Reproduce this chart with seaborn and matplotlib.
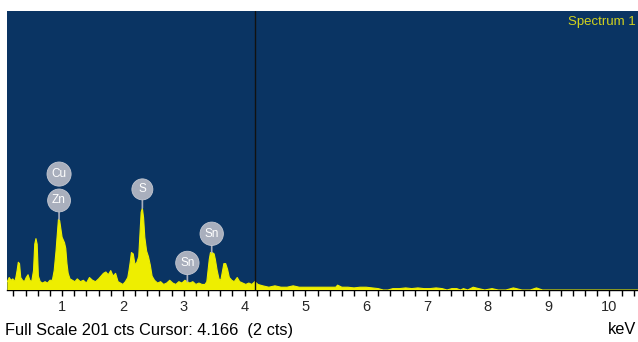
import numpy as np
import matplotlib
matplotlib.use("Agg")
import matplotlib.pyplot as plt
from matplotlib.ticker import MultipleLocator
import seaborn as sns

# spectrum (keV, counts)
energy_kev = [0.10, 0.13, 0.16, 0.19, 0.22, 0.24, 0.26, 0.28, 0.30, 0.32, 0.35, 0.38, 0.41,
              0.44, 0.47, 0.50, 0.53, 0.55, 0.57, 0.59, 0.61, 0.64, 0.68, 0.72, 0.76, 0.80,
              0.84, 0.87, 0.90, 0.92, 0.94, 0.96, 0.98, 1.00, 1.02, 1.04, 1.06, 1.08, 1.10,
              1.13, 1.17, 1.21, 1.25, 1.30, 1.35, 1.40, 1.45, 1.50, 1.55, 1.60, 1.64, 1.68,
              1.72, 1.76, 1.80, 1.84, 1.88, 1.92, 1.96, 2.00, 2.04, 2.08, 2.10, 2.12, 2.14,
              2.17, 2.20, 2.23, 2.26, 2.28, 2.30, 2.32, 2.34, 2.36, 2.39, 2.42, 2.45, 2.48,
              2.52, 2.57, 2.62, 2.67, 2.72, 2.77, 2.82, 2.87, 2.92, 2.97, 3.02, 3.06, 3.10,
              3.15, 3.20, 3.25, 3.30, 3.35, 3.38, 3.40, 3.42, 3.44, 3.47, 3.50, 3.52, 3.55,
              3.58, 3.61, 3.64, 3.66, 3.69, 3.72, 3.75, 3.79, 3.83, 3.88, 3.92, 3.97, 4.02,
              4.07, 4.12, 4.17, 4.22, 4.30, 4.40, 4.50, 4.60, 4.70, 4.80, 4.90, 5.00, 5.10,
              5.20, 5.30, 5.40, 5.50, 5.53, 5.60, 5.70, 5.80, 5.90, 6.00, 6.10, 6.20, 6.28,
              6.36, 6.44, 6.55, 6.65, 6.75, 6.85, 6.95, 7.05, 7.15, 7.25, 7.33, 7.41, 7.49,
              7.55, 7.60, 7.67, 7.76, 7.85, 7.95, 8.07, 8.17, 8.30, 8.42, 8.47, 8.56, 8.70,
              8.80, 8.90, 10.6]
counts = [6, 9, 7, 8, 6, 9, 14, 20, 19, 9, 7, 6, 9,
          11, 7, 6, 14, 33, 37, 33, 10, 6, 5, 6, 5, 7,
          7, 14, 28, 40, 51, 50, 44, 38, 36, 34, 30, 19, 12,
          8, 7, 6, 8, 6, 7, 5, 9, 7, 6, 8, 10, 12,
          13, 11, 14, 10, 12, 6, 5, 4, 6, 9, 14, 20, 27,
          26, 18, 20, 24, 40, 56, 59, 52, 38, 28, 24, 18, 10,
          7, 5, 6, 4, 5, 7, 5, 4, 6, 5, 7, 6, 5,
          6, 4, 5, 4, 4, 6, 14, 22, 27, 27, 26, 22, 14,
          8, 7, 14, 19, 19, 15, 9, 7, 6, 9, 6, 5, 4,
          5, 4, 6, 4, 3, 2, 3, 2, 2, 3, 2, 2, 2,
          2, 2, 2, 2, 3.5, 2, 2, 1.5, 2, 2, 1.5, 1, 0,
          0, 1, 1, 1.5, 1, 1.5, 1, 1, 1.5, 1, 0, 1, 1,
          0, 1, 0, 2, 1, 0, 1, 0, 0, 1.5, 1, 0, 0,
          1.5, 0, 0]

label_names = ["Zn", "S", "Sn", "Sn"]
label_kev = [0.95, 2.32, 3.46, 3.06]
stacked_label = "Cu"
cursor_kev = 4.166
full_scale = 201

navy = "#0a3463"
yellow = "#eeee00"
bubble = "#a9afbd"

sns.set_style("white")
plt.rcParams["font.family"] = ["Liberation Sans", "DejaVu Sans"]

fig = plt.figure(figsize=(6.38, 3.42), dpi=100)
ax = fig.add_axes([7 / 638, 52 / 342, 631 / 638, 279 / 342])
ax.set_facecolor(navy)

sns.lineplot(x=energy_kev, y=counts, color=yellow, linewidth=0.8, ax=ax, zorder=3)
ax.fill_between(energy_kev, counts, 0, color=yellow, linewidth=0, zorder=3)

ax.axvline(cursor_kev, color="#111111", linewidth=1, zorder=4)

ax.set_xlim(0.094, 10.47)
ax.set_ylim(0, full_scale)

# peak labels: grey bubbles with a short stem
e_arr = np.array(energy_kev)
c_arr = np.array(counts)
bub = dict(boxstyle="circle,pad=0.38", fc=bubble, ec="#c4c8d2", lw=0.6)
for name, kev in zip(label_names, label_kev):
    near = np.abs(e_arr - kev) < 0.04
    top = c_arr[near].max()
    ax.annotate(name, xy=(kev, top), xytext=(0, 13.5), textcoords="offset points",
                ha="center", va="center", color="white", fontsize=8.5, zorder=6,
                bbox=bub,
                arrowprops=dict(arrowstyle="-", color=bubble, lw=1.2,
                                shrinkA=0, shrinkB=0))
    if name == "Zn":
        ax.annotate(stacked_label, xy=(kev, top), xytext=(0, 32.5),
                    textcoords="offset points", ha="center", va="center",
                    color="white", fontsize=8.5, zorder=5, bbox=bub)

ax.set_xticks(range(1, 11))
ax.xaxis.set_minor_locator(MultipleLocator(0.2))
ax.set_yticks([])
ax.tick_params(axis="x", which="both", direction="out", length=4, width=1,
               color="black", labelsize=10.5, pad=3, bottom=True)
for side in ["top", "right", "left"]:
    ax.spines[side].set_visible(False)
ax.spines["bottom"].set_color("black")
ax.spines["bottom"].set_linewidth(1)
ax.set_xlabel("")
ax.set_ylabel("")

fig.text(636 / 638, 1 - 22 / 342, "Spectrum 1", ha="right", va="center",
         color="#d2d21e", fontsize=9.5)

fig.text(5 / 638, 1 - 330 / 342, f"Full Scale {full_scale} cts Cursor: {cursor_kev:.3f}  (2 cts)",
         ha="left", va="center", fontsize=11.8, color="black")
fig.text(636 / 638, 1 - 330 / 342, "keV", ha="right", va="center", fontsize=11.8, color="black")

fig.savefig("out.png", dpi=100)
